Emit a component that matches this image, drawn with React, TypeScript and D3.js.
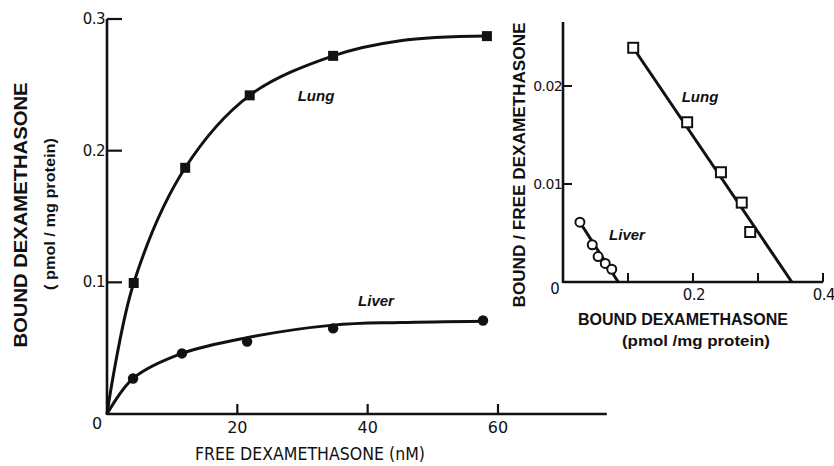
import React from 'react';
import { scaleLinear, line as d3Line, curveCatmullRom, curveLinear } from 'd3';

// left panel: saturation data
const freeNm = [4.1, 12.0, 21.9, 34.7, 58.3];
const lungBound = [0.0995, 0.187, 0.242, 0.272, 0.287];
const liverFree = [4.0, 11.5, 21.5, 34.7, 57.7];
const liverBound = [0.027, 0.046, 0.055, 0.065, 0.071];

// hand-drawn fitted curves
const lungCurveX = [0, 4.1, 12.0, 21.9, 34.7, 45, 58.3];
const lungCurveY = [0, 0.0995, 0.187, 0.242, 0.272, 0.2835, 0.287];
const liverCurveX = [0, 4.0, 11.5, 21.5, 34.7, 45, 57.7];
const liverCurveY = [0, 0.027, 0.046, 0.058, 0.0675, 0.0695, 0.0705];

const leftXTicks = [20, 40, 60];
const leftYTicks = [0.1, 0.2, 0.3];
const leftYLabels = ['0.1', '0.2', '0.3'];

// right panel: Scatchard plot
const lungScX = [0.108, 0.191, 0.243, 0.275, 0.288];
const lungScY = [0.0239, 0.0163, 0.0112, 0.0081, 0.0051];
const liverScX = [0.026, 0.045, 0.054, 0.065, 0.075];
const liverScY = [0.0061, 0.0038, 0.0026, 0.0019, 0.0013];
const lungFitX = [0.108, 0.352];
const lungFitY = [0.0239, 0];
const liverFitX = [0.026, 0.085];
const liverFitY = [0.0061, 0];

const rightXTicks = [0.1, 0.2, 0.3, 0.4];
const rightXLabels = ['', '0.2', '', '0.4'];
const rightYTicks = [0.01, 0.02];
const rightYLabels = ['0.01', '0.02'];

const W = 834;
const H = 466;
const FONT = '"DejaVu Sans", Verdana, sans-serif';
const TITLE_FONT = '"Liberation Sans", Arial, sans-serif';
const INK = '#111';

type P = [number, number];
const zip = (a: number[], b: number[]): P[] => a.map((v, i) => [v, b[i]]);

export default function App() {
  // left scales
  const lx = scaleLinear().domain([0, 60]).range([107, 498]);
  const ly = scaleLinear().domain([0, 0.3]).range([414, 19]);
  // right scales
  const rx = scaleLinear().domain([0, 0.4]).range([563, 823]);
  const ry = scaleLinear().domain([0, 0.02]).range([282, 86]);

  const leftLine = d3Line<P>()
    .x(d => lx(d[0]))
    .y(d => ly(d[1]))
    .curve(curveCatmullRom.alpha(0.5));
  const rightLine = d3Line<P>()
    .x(d => rx(d[0]))
    .y(d => ry(d[1]))
    .curve(curveLinear);

  const axisW = 2.6;
  const sq = 10;

  return (
    <svg
      width={W}
      height={H}
      viewBox={`0 0 ${W} ${H}`}
      style={{ position: 'absolute', left: 0, top: 0, background: '#fff', display: 'block' }}
      fontFamily={FONT}
    >
      {/* ---------- left panel ---------- */}
      <line x1={lx(0)} x2={lx(0)} y1={ly(0) + 1} y2={ly(0.3)} stroke={INK} strokeWidth={axisW} />
      <line x1={lx(0)} x2={lx(76.7)} y1={ly(0)} y2={ly(0)} stroke={INK} strokeWidth={axisW} />
      {leftXTicks.map(t => (
        <g key={t}>
          <line x1={lx(t)} x2={lx(t)} y1={ly(0)} y2={ly(0) - 10} stroke={INK} strokeWidth={2.2} />
          <text x={lx(t)} y={ly(0) + 19} textAnchor="middle" fontSize={16} fill={INK}>{t}</text>
        </g>
      ))}
      <text x={97} y={ly(0) + 15} textAnchor="middle" fontSize={16} fill={INK}>0</text>
      {leftYTicks.map((t, i) => (
        <g key={t}>
          <line x1={lx(0)} x2={lx(0) + 15} y1={ly(t)} y2={ly(t)} stroke={INK} strokeWidth={2.2} />
          <text x={lx(0) - 2} y={ly(t) + 5} textAnchor="end" fontSize={15} letterSpacing={-0.5} fill={INK}>{leftYLabels[i]}</text>
        </g>
      ))}

      <path d={leftLine(zip(lungCurveX, lungCurveY)) || ''} fill="none" stroke={INK} strokeWidth={3} />
      <path d={leftLine(zip(liverCurveX, liverCurveY)) || ''} fill="none" stroke={INK} strokeWidth={3} />
      {freeNm.map((x, i) => (
        <rect key={i} x={lx(x) - sq / 2} y={ly(lungBound[i]) - sq / 2} width={sq} height={sq} fill={INK} />
      ))}
      {liverFree.map((x, i) => (
        <circle key={i} cx={lx(x)} cy={ly(liverBound[i])} r={5.2} fill={INK} />
      ))}
      <text x={316} y={101} textAnchor="middle" fontSize={15} fontFamily={TITLE_FONT} fontStyle="italic" fontWeight="bold" fill={INK}>Lung</text>
      <text x={376} y={306} textAnchor="middle" fontSize={15} fontFamily={TITLE_FONT} fontStyle="italic" fontWeight="bold" fill={INK}>Liver</text>

      <text
        transform="translate(27,215) rotate(-90)"
        textAnchor="middle"
        fontSize={18}
        fontFamily={TITLE_FONT}
        fontWeight="bold"
        textLength={265}
        lengthAdjust="spacingAndGlyphs"
        fill={INK}
      >
        BOUND DEXAMETHASONE
      </text>
      <text
        transform="translate(55,214) rotate(-90)"
        textAnchor="middle"
        fontSize={15}
        fontFamily={TITLE_FONT}
        fontWeight="bold"
        textLength={152}
        lengthAdjust="spacingAndGlyphs"
        fill={INK}
      >
        ( pmol / mg protein)
      </text>
      <text
        x={310}
        y={460}
        textAnchor="middle"
        fontSize={17}
        textLength={230}
        lengthAdjust="spacingAndGlyphs"
        fill={INK}
      >
        FREE DEXAMETHASONE (nM)
      </text>

      {/* ---------- right panel ---------- */}
      <line x1={rx(0)} x2={rx(0)} y1={ry(0) + 1} y2={22} stroke={INK} strokeWidth={axisW} />
      <line x1={rx(0)} x2={rx(0.4)} y1={ry(0)} y2={ry(0)} stroke={INK} strokeWidth={axisW} />
      {rightXTicks.map((t, i) => (
        <g key={t}>
          <line x1={rx(t)} x2={rx(t)} y1={ry(0)} y2={ry(0) - 9} stroke={INK} strokeWidth={2} />
          {rightXLabels[i] && (
            <text x={rx(t) + 1} y={ry(0) + 18} textAnchor="middle" fontSize={15} letterSpacing={-0.5} fill={INK}>{rightXLabels[i]}</text>
          )}
        </g>
      ))}
      <text x={555} y={ry(0) + 12} textAnchor="middle" fontSize={15} fill={INK}>0</text>
      {rightYTicks.map((t, i) => (
        <g key={t}>
          <line x1={rx(0)} x2={rx(0) + 9} y1={ry(t)} y2={ry(t)} stroke={INK} strokeWidth={2} />
          <text x={rx(0) - 1} y={ry(t) + 5} textAnchor="end" fontSize={14} letterSpacing={-0.6} fill={INK}>{rightYLabels[i]}</text>
        </g>
      ))}

      <path d={rightLine(zip(lungFitX, lungFitY)) || ''} fill="none" stroke={INK} strokeWidth={3} />
      <path d={rightLine(zip(liverFitX, liverFitY)) || ''} fill="none" stroke={INK} strokeWidth={3} />
      {lungScX.map((x, i) => (
        <rect
          key={i}
          x={rx(x) - sq / 2}
          y={ry(lungScY[i]) - sq / 2}
          width={sq}
          height={sq}
          fill="#fff"
          stroke={INK}
          strokeWidth={2}
        />
      ))}
      {liverScX.map((x, i) => (
        <circle key={i} cx={rx(x)} cy={ry(liverScY[i])} r={4.5} fill="#fff" stroke={INK} strokeWidth={2} />
      ))}
      <text x={700} y={102} textAnchor="middle" fontSize={15} fontFamily={TITLE_FONT} fontStyle="italic" fontWeight="bold" fill={INK}>Lung</text>
      <text x={627} y={240} textAnchor="middle" fontSize={15} fontFamily={TITLE_FONT} fontStyle="italic" fontWeight="bold" fill={INK}>Liver</text>

      <text
        transform="translate(525,165) rotate(-90)"
        textAnchor="middle"
        fontSize={17}
        fontFamily={TITLE_FONT}
        fontWeight="bold"
        textLength={285}
        lengthAdjust="spacingAndGlyphs"
        fill={INK}
      >
        BOUND / FREE DEXAMETHASONE
      </text>
      <text
        x={683}
        y={325}
        textAnchor="middle"
        fontSize={16}
        fontFamily={TITLE_FONT}
        fontWeight="bold"
        textLength={210}
        lengthAdjust="spacingAndGlyphs"
        fill={INK}
      >
        BOUND DEXAMETHASONE
      </text>
      <text
        x={696}
        y={346}
        textAnchor="middle"
        fontSize={14}
        fontFamily={TITLE_FONT}
        fontWeight="bold"
        textLength={148}
        lengthAdjust="spacingAndGlyphs"
        fill={INK}
      >
        (pmol /mg protein)
      </text>
    </svg>
  );
}
